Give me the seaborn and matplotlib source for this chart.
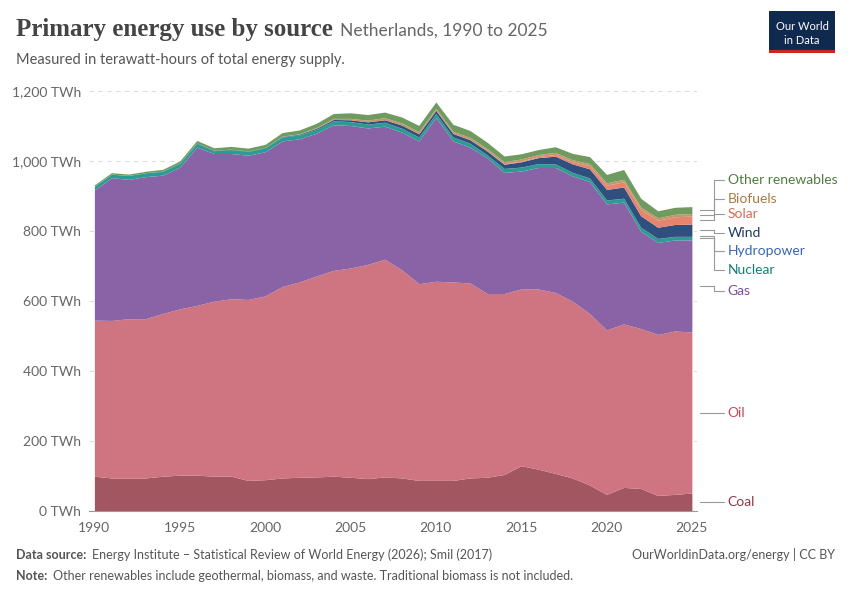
import numpy as np
import matplotlib
matplotlib.use("Agg")
import matplotlib.pyplot as plt
import seaborn as sns

years = list(range(1990, 2026))
coal = [100,95,95,95,100,103,103,100,100,88,90,95,97,98,100,97,93,98,95,88,88,88,95,97,105,130,120,108,95,75,48,68,65,45,48,52]
oil_cum = [546,545,550,550,565,578,588,600,607,605,615,642,655,672,688,695,705,720,690,650,657,655,652,622,622,635,635,625,600,565,518,535,522,505,515,512]
gas_cum = [918,953,948,956,960,983,1040,1022,1022,1017,1027,1058,1064,1080,1104,1102,1095,1100,1083,1058,1125,1058,1040,1010,968,972,982,982,958,942,878,883,800,768,775,775]
nuclear = [10,10,11,11,11,11,11,8,11,11,11,11,11,11,11,11,11,11,11,11,11,11,11,8,11,11,11,10,10,10,11,11,11,11,10,10]
hydro = [0.3]*36
wind = [0,0,0,0,0.5,0.5,1,1,1,1,1,1.5,2,3,4,5,6,7,9,9,9,10,10,11,12,15,17,22,24,26,30,32,33,32,34,35]
solar = [0]*20 + [0,0.2,0.5,1,1.5,2,3,5,6,9,12,15,18,20,22,23]
biofuels = [0]*10 + [0,1,1,2,3,4,5,6,6,6,6,6,6,6,6,6,6,6,6,6,7,7,7,7,7,7]
other = [4,4,4,4,5,6,7,7,8,8,9,10,11,12,14,16,16,16,17,18,18,20,20,18,16,15,14,16,18,20,24,28,25,20,20,20]

oil = [o - c for o, c in zip(oil_cum, coal)]
gas = [g - o for g, o in zip(gas_cum, oil_cum)]

names = ["Coal","Oil","Gas","Nuclear","Hydropower","Wind","Solar","Biofuels","Other renewables"]
series = [coal, oil, gas, nuclear, hydro, wind, solar, biofuels, other]
colors = ["#a2565f","#cf7481","#8a63a6","#2a9c93","#3d6fb6","#2f4f7e","#e6846f","#c4966a","#6f9b61"]
txtcol = ["#8b3a46","#c4475a","#7a4f9a","#138078","#3767b0","#1c3a66","#d86a55","#a97a3f","#4f7c40"]

sns.set_style("white")
plt.rcParams['font.family'] = ['Lato', 'DejaVu Sans']

fig = plt.figure(figsize=(8.5, 6), dpi=100)
ax = fig.add_axes([0.105, 0.148, 0.715, 0.70])
ax.stackplot(years, *series, colors=colors, linewidth=0)
ax.set_xlim(1989.7, 2025.3)
ax.set_ylim(0, 1200)
ax.set_yticks(range(0, 1201, 200))
ax.set_yticklabels(["0 TWh"] + [f"{v:,} TWh" for v in range(200, 1201, 200)], color="#666", fontsize=10)
ax.set_xticks([1990,1995,2000,2005,2010,2015,2020,2025])
ax.tick_params(axis='x', colors="#666", labelsize=10, length=4, color="#999")
ax.tick_params(axis='y', length=0, pad=6)
for y in range(200, 1201, 200):
    ax.axhline(y, color="#ddd", lw=0.8, ls=(0, (4, 4)), zorder=0)
for s in ["top", "right", "left"]:
    ax.spines[s].set_visible(False)
ax.spines["bottom"].set_color("#999")

cum = np.cumsum([s[-1] for s in series])
mids = cum - np.array([s[-1] for s in series]) / 2
label_y = [25, 280, 630, 688, 742, 795, 848, 893, 945]
for i, n in enumerate(names):
    y0 = mids[i]
    ly = label_y[i]
    x0, x1, x2 = 2025.5, 2026.3, 2026.9
    ax.plot([x0, x1, x1, x2], [y0, y0, ly, ly], color="#999", lw=0.8, clip_on=False)
    ax.text(2027.1, ly, n, color=txtcol[i], fontsize=10, va="center", ha="left", clip_on=False)

r = fig.canvas.get_renderer()
def pair(x, y, bold, rest, size, **kw):
    t = fig.text(x, y, bold, fontsize=size, color=kw.get("c1", "#555"), fontweight="bold",
                 family=kw.get("fam"), va="baseline")
    w = t.get_window_extent(r).width / fig.bbox.width
    fig.text(x + w + kw.get("gap", 0.006), y, rest, fontsize=kw.get("size2", size),
             color=kw.get("c2", "#555"), va="baseline")

pair(0.019, 0.94, "Primary energy use by source", "Netherlands, 1990 to 2025", 18,
     c1="#444", fam=["Liberation Serif"], size2=12.5, c2="#666", gap=0.008)
fig.text(0.019, 0.893, "Measured in terawatt-hours of total energy supply.", fontsize=10.5, color="#555")
lax = fig.add_axes([0.905, 0.912, 0.077, 0.07])
lax.set_facecolor("#0f2a4e")
lax.set_xticks([]); lax.set_yticks([])
for s in lax.spines.values(): s.set_visible(False)
lax.text(0.5, 0.62, "Our World", color="white", fontsize=8, ha="center", va="center", transform=lax.transAxes)
lax.text(0.5, 0.3, "in Data", color="white", fontsize=8, ha="center", va="center", transform=lax.transAxes)
lax.axhline(0.02, color="#ce261e", lw=3)

pair(0.019, 0.068, "Data source:", "Energy Institute – Statistical Review of World Energy (2026); Smil (2017)", 9)
fig.text(0.982, 0.068, "OurWorldinData.org/energy | CC BY", fontsize=9, color="#555", ha="right")
pair(0.019, 0.033, "Note:", "Other renewables include geothermal, biomass, and waste. Traditional biomass is not included.", 9)

fig.savefig("out.png", dpi=100)
